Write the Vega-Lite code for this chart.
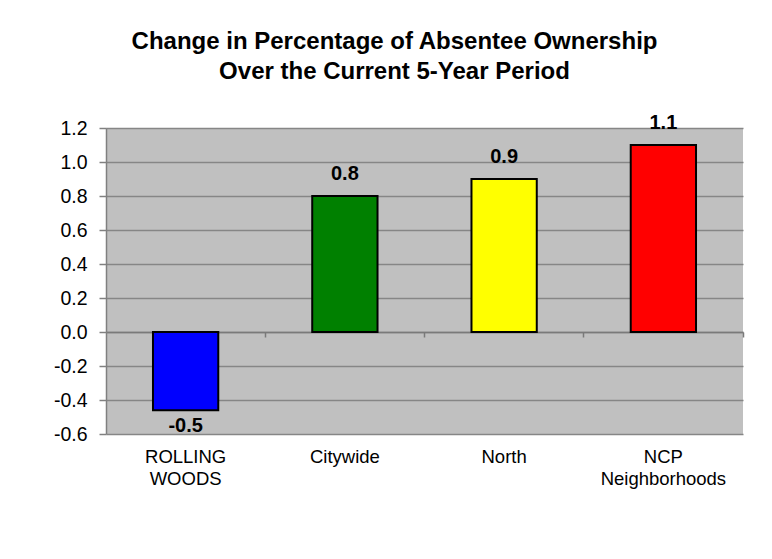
{
  "$schema": "https://vega.github.io/schema/vega-lite/v6.json",
  "width": 637,
  "height": 306,
  "autosize": {"type": "none"},
  "padding": {"left": 106, "top": 128, "right": 29, "bottom": 125},
  "background": "white",
  "config": {
    "view": {"fill": "#C0C0C0", "stroke": null},
    "font": "Liberation Sans",
    "axisY": {
      "title": null,
      "values": [-0.6, -0.4, -0.2, 0, 0.2, 0.4, 0.6, 0.8, 1.0, 1.2],
      "labelExpr": "replace(format(datum.value, '.1f'), '\u2212', '-')",
      "labelOverlap": false,
      "grid": true, "gridColor": "#868686", "gridWidth": 1.5,
      "domainColor": "#808080", "domainWidth": 1.5,
      "tickColor": "#808080", "tickSize": 7, "tickWidth": 1.5,
      "labelPadding": 12, "labelFontSize": 19.5, "labelColor": "black",
      "labelFont": "Liberation Sans"
    }
  },
  "title": {
    "text": ["Change in Percentage of Absentee Ownership", "Over the Current 5-Year Period"],
    "fontSize": 24,
    "fontWeight": "bold",
    "font": "Liberation Sans",
    "color": "black",
    "lineHeight": 30,
    "anchor": "middle",
    "baseline": "alphabetic",
    "dx": -30,
    "offset": 10
  },
  "data": {
    "values": [
      {"category": "ROLLING WOODS", "value": -0.46, "label": "-0.5"},
      {"category": "Citywide", "value": 0.8, "label": "0.8"},
      {"category": "North", "value": 0.9, "label": "0.9"},
      {"category": "NCP Neighborhoods", "value": 1.1, "label": "1.1"}
    ]
  },
  "layer": [
    {
      "mark": {"type": "bar", "width": {"band": 0.41}, "stroke": "black", "strokeWidth": 2},
      "encoding": {
        "x": {
          "field": "category", "type": "nominal", "sort": null,
          "scale": {"paddingInner": 0, "paddingOuter": 0},
          "axis": {
            "orient": "bottom", "title": null, "domain": false, "ticks": false, "grid": false,
            "labelPadding": 13, "labelFontSize": 18.5, "labelColor": "black", "labelAngle": 0,
            "labelExpr": "split(datum.value, ' ')", "labelLineHeight": 22, "labelBaseline": "top",
            "labelFont": "Liberation Sans"
          }
        },
        "y": {
          "field": "value", "type": "quantitative",
          "scale": {"domain": [-0.6, 1.2], "nice": false, "zero": false},
          "axis": {"values": [-0.6, -0.4, -0.2, 0, 0.2, 0.4, 0.6, 0.8, 1.0, 1.2], "labelOverlap": false, "tickCount": 10}
        },
        "color": {
          "field": "category", "type": "nominal",
          "scale": {
            "domain": ["ROLLING WOODS", "Citywide", "North", "NCP Neighborhoods"],
            "range": ["#0000FF", "#008000", "#FFFF00", "#FF0000"]
          },
          "legend": null
        }
      }
    },
    {
      "transform": [{"filter": "datum.value >= 0"}],
      "mark": {"type": "text", "fontSize": 20, "fontWeight": "bold", "baseline": "alphabetic", "dy": -16, "color": "black"},
      "encoding": {
        "x": {
          "field": "category", "type": "nominal", "sort": null,
          "axis": {
            "orient": "top", "offset": -204, "title": null, "labels": false, "grid": false,
            "domain": true, "domainColor": "#7a7a7a", "domainWidth": 1.5,
            "ticks": true, "tickSize": -5, "tickColor": "#7a7a7a", "tickWidth": 1.5,
            "bandPosition": 1
          }
        },
        "y": {"field": "value", "type": "quantitative", "axis": {"values": [-0.6, -0.4, -0.2, 0, 0.2, 0.4, 0.6, 0.8, 1.0, 1.2], "labelOverlap": false, "tickCount": 10}},
        "text": {"field": "label"}
      }
    },
    {
      "transform": [{"filter": "datum.value < 0"}],
      "mark": {"type": "text", "fontSize": 20, "fontWeight": "bold", "baseline": "alphabetic", "dy": 22, "color": "black"},
      "encoding": {
        "x": {"field": "category", "type": "nominal", "sort": null, "axis": null},
        "y": {"field": "value", "type": "quantitative", "axis": {"values": [-0.6, -0.4, -0.2, 0, 0.2, 0.4, 0.6, 0.8, 1.0, 1.2], "labelOverlap": false, "tickCount": 10}},
        "text": {"field": "label"}
      }
    }
  ],
  "resolve": {"axis": {"x": "independent"}}
}
